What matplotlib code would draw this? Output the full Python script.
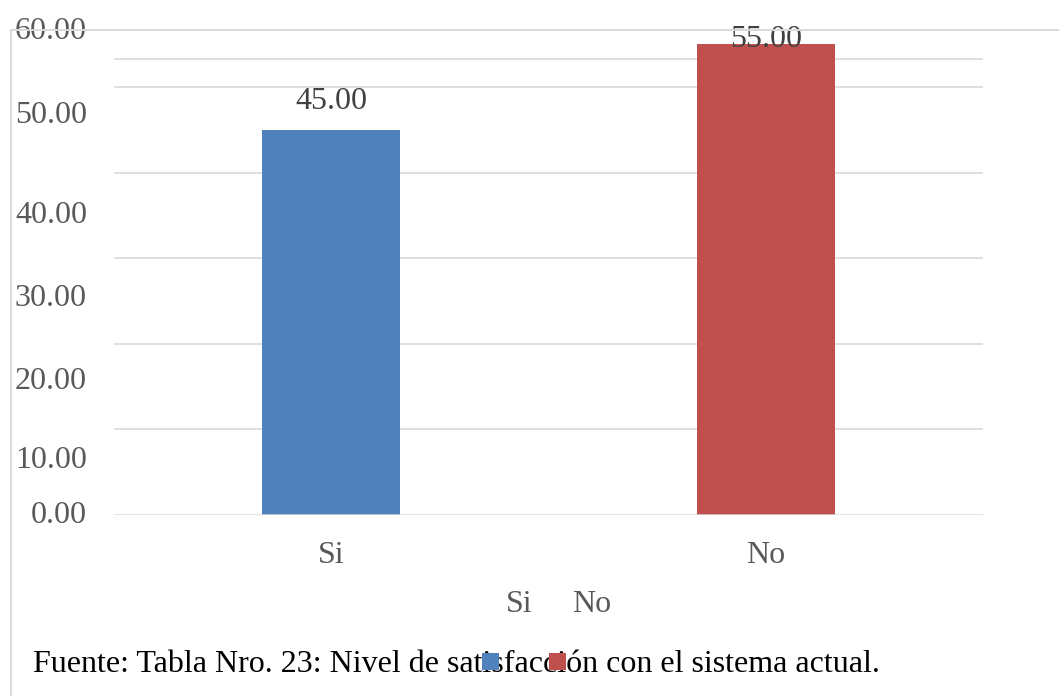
import matplotlib
matplotlib.use("Agg")
import matplotlib.pyplot as plt
from matplotlib.lines import Line2D
from matplotlib.patches import Rectangle

# Data
categories = ["Si", "No"]
values = [45.00, 55.00]
colors = ["#4F81BD", "#C0504D"]
gridline_values = [0, 10, 20, 30, 40, 50, 53.3]
ytick_labels = ["60.00", "50.00", "40.00", "30.00", "20.00", "10.00", "0.00"]
footer = "Fuente: Tabla Nro. 23: Nivel de satisfacción con el sistema actual."

W, H = 1059, 696
FS = 23.0
plt.rcParams["font.family"] = ["Liberation Serif", "DejaVu Serif"]
fig = plt.figure(figsize=(W / 100, H / 100), dpi=100)

def fx(px):
    return px / W

def fy(py):
    return 1 - py / H

# plot area: x 114..983 px, zero line at 514.5 px, 60 at 1.5 px
ax = fig.add_axes([fx(114), fy(514.5), fx(983) - fx(114), fy(1.5) - fy(514.5)])
ax.set_xlim(-0.5, 1.5)
ax.set_ylim(0, 60)
for s in ax.spines.values():
    s.set_visible(False)

# horizontal gridlines
ax.hlines(gridline_values[1:], -0.5, 1.5, colors="#D9D9D9", linewidth=1.2, zorder=0)
ax.axhline(gridline_values[0], color="#D9D9D9", linewidth=1.8, zorder=3)

x = list(range(len(categories)))
bars = ax.bar(x, values, width=0.318, color=colors, zorder=2)

# value labels
label_offsets = [20.5, 3.5]  # points above bar top
for xi, v, off in zip(x, values, label_offsets):
    ax.annotate(f"{v:.2f}", xy=(xi, v), xytext=(0, off), textcoords="offset points",
                ha="center", va="center", fontsize=FS, color="#404040", zorder=4)

# category axis
ax.set_xticks(x, labels=categories)
ax.tick_params(axis="x", length=0, pad=19, labelsize=FS, labelcolor="#595959")

# value axis labels
ytick_pos = [56.9, 47.1, 35.4, 25.7, 16.0, 6.7, 0.3]
ax.set_yticks(ytick_pos, labels=ytick_labels)
ax.tick_params(axis="y", length=0, pad=19.5, labelsize=FS, labelcolor="#595959")

# chart area border (top and left)
fig.add_artist(Line2D([fx(11), fx(1059)], [fy(30), fy(30)], color="#D9D9D9", linewidth=1.4))
fig.add_artist(Line2D([fx(11), fx(11)], [fy(30), fy(696)], color="#D9D9D9", linewidth=1.4))

# legend
legend_text_x = [519, 592]
legend_box_x = [482, 549]
for name, col, tx, bx in zip(categories, colors, legend_text_x, legend_box_x):
    fig.text(fx(tx), fy(604), name, ha="center", va="center", fontsize=FS, color="#595959")
    fig.add_artist(Rectangle((fx(bx), fy(670)), fx(17), 17 / H, facecolor=col,
                             edgecolor="none", transform=fig.transFigure, zorder=5))

# source note
fig.text(fx(33), fy(664), footer, ha="left", va="center", fontsize=FS, color="black")

fig.savefig("out.png", dpi=100)
